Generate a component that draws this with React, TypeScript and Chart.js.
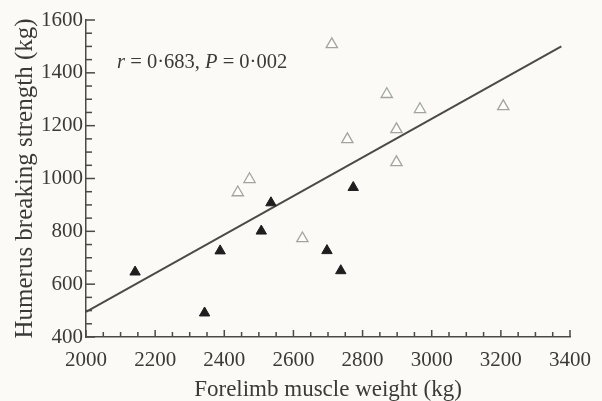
import React, { useEffect, useRef } from 'react';
import { Chart, registerables } from 'chart.js';

Chart.register(...registerables);

// Filled triangles
const filledX = [2142, 2343, 2388, 2507, 2535, 2697, 2737, 2773];
const filledY = [646, 491, 726, 801, 908, 727, 651, 966];
// Open triangles
const openX = [2439, 2473, 2626, 2711, 2756, 2870, 2898, 2898, 2966, 3207];
const openY = [947, 997, 773, 1508, 1148, 1319, 1186, 1061, 1262, 1273];
// Regression line end points
const fitX = [2000, 3375];
const fitY = [495, 1500];

const xTickValues = [2000, 2200, 2400, 2600, 2800, 3000, 3200, 3400];
const yTickValues = [400, 600, 800, 1000, 1200, 1400, 1600];
const xMinorStep = 50;
const yMinorStep = 50;

const xTitle = 'Forelimb muscle weight (kg)';
const yTitle = 'Humerus breaking strength (kg)';
const statSegments = [
  { text: 'r', italic: true },
  { text: ' = 0·683, ', italic: false },
  { text: 'P', italic: true },
  { text: ' = 0·002', italic: false },
];
const statAnchor = { x: 2090, y: 1440 };

const FONT = "'Liberation Serif', 'Times New Roman', serif";
const TEXT = '#3a3a38';
const AXIS = '#4a4a48';

export default function App() {
  const ref = useRef<HTMLCanvasElement | null>(null);

  useEffect(() => {
    const canvas = ref.current;
    if (!canvas) return;

    const bgPlugin = {
      id: 'bg',
      beforeDraw(chart: any) {
        const { ctx, width, height } = chart;
        ctx.save();
        ctx.fillStyle = '#fbfaf6';
        ctx.fillRect(0, 0, width, height);
        ctx.restore();
      },
    };

    const tickPlugin = {
      id: 'innerTicks',
      afterDraw(chart: any) {
        const ctx = chart.ctx;
        const xs = chart.scales.x;
        const ys = chart.scales.y;
        const left = xs.left;
        const bottom = ys.bottom;
        ctx.save();
        ctx.fillStyle = AXIS;
        const xStart = xTickValues[0];
        const xEnd = xTickValues[xTickValues.length - 1];
        const yStart = yTickValues[0];
        const yEnd = yTickValues[yTickValues.length - 1];
        for (let v = xStart; v <= xEnd; v += xMinorStep) {
          const px = xs.getPixelForValue(v);
          const major = (v - xStart) % 200 === 0;
          const len = major ? 7 : 5;
          ctx.fillRect(px - 0.75, bottom - len, 1.5, len);
        }
        for (let v = yStart; v <= yEnd; v += yMinorStep) {
          const py = ys.getPixelForValue(v);
          const major = (v - yStart) % 200 === 0;
          const len = major ? 9 : 6;
          ctx.fillRect(left, py - 0.75, len, 1.5);
        }

        // statistics annotation
        let x = xs.getPixelForValue(statAnchor.x);
        const y = ys.getPixelForValue(statAnchor.y);
        ctx.fillStyle = TEXT;
        ctx.textBaseline = 'middle';
        ctx.textAlign = 'left';
        for (const seg of statSegments) {
          ctx.font = `${seg.italic ? 'italic ' : ''}20.5px ${FONT}`;
          ctx.fillText(seg.text, x, y);
          x += ctx.measureText(seg.text).width;
        }
        ctx.restore();
      },
    };

    const chart = new Chart(canvas, {
      type: 'scatter',
      data: {
        datasets: [
          {
            type: 'line',
            data: fitX.map((x, i) => ({ x, y: fitY[i] })),
            borderColor: '#4a4a48',
            borderWidth: 2,
            pointRadius: 0,
            fill: false,
            order: 3,
          } as any,
          {
            data: openX.map((x, i) => ({ x, y: openY[i] })),
            pointStyle: 'triangle',
            pointRadius: 6.5,
            backgroundColor: 'rgba(255,255,255,0.6)',
            borderColor: '#a3a3a0',
            borderWidth: 1.3,
            order: 2,
          },
          {
            data: filledX.map((x, i) => ({ x, y: filledY[i] })),
            pointStyle: 'triangle',
            pointRadius: 6,
            backgroundColor: '#1e1e1e',
            borderColor: '#1e1e1e',
            borderWidth: 1,
            order: 1,
          },
        ],
      },
      options: {
        animation: false,
        responsive: false,
        events: [],
        layout: { padding: { top: 20, right: 22, bottom: 0, left: 0 } },
        plugins: { legend: { display: false }, tooltip: { enabled: false } },
        scales: {
          x: {
            type: 'linear',
            min: 2000,
            max: 3400,
            afterBuildTicks: (scale: any) => {
              scale.ticks = xTickValues.map((v) => ({ value: v }));
            },
            afterFit: (scale: any) => {
              scale.height = 64;
            },
            grid: { display: false, drawTicks: false },
            border: { display: true, color: AXIS, width: 1.5 },
            ticks: {
              color: TEXT,
              font: { family: FONT, size: 21 },
              padding: 11,
              maxRotation: 0,
              autoSkip: false,
              callback: (v: any) => String(v),
            },
            title: {
              display: true,
              text: xTitle,
              color: TEXT,
              font: { family: FONT, size: 23, lineHeight: 1 },
              padding: { top: 0, bottom: 0 },
            },
          },
          y: {
            type: 'linear',
            min: 400,
            max: 1600,
            afterBuildTicks: (scale: any) => {
              scale.ticks = yTickValues.map((v) => ({ value: v }));
            },
            afterFit: (scale: any) => {
              scale.width = 86;
            },
            grid: { display: false, drawTicks: false },
            border: { display: true, color: AXIS, width: 1.5 },
            ticks: {
              color: TEXT,
              font: { family: FONT, size: 21 },
              padding: 3,
              autoSkip: false,
              callback: (v: any) => String(v),
            },
            title: {
              display: true,
              text: yTitle,
              color: TEXT,
              font: { family: FONT, size: 25 },
              padding: { top: 10, bottom: 0 },
            },
          },
        },
      },
      plugins: [bgPlugin, tickPlugin],
    });

    return () => chart.destroy();
  }, []);

  return (
    <div style={{ position: 'fixed', left: 0, top: 0, width: 602, height: 401 }}>
      <canvas ref={ref} width={602} height={401} style={{ display: 'block' }} />
    </div>
  );
}
